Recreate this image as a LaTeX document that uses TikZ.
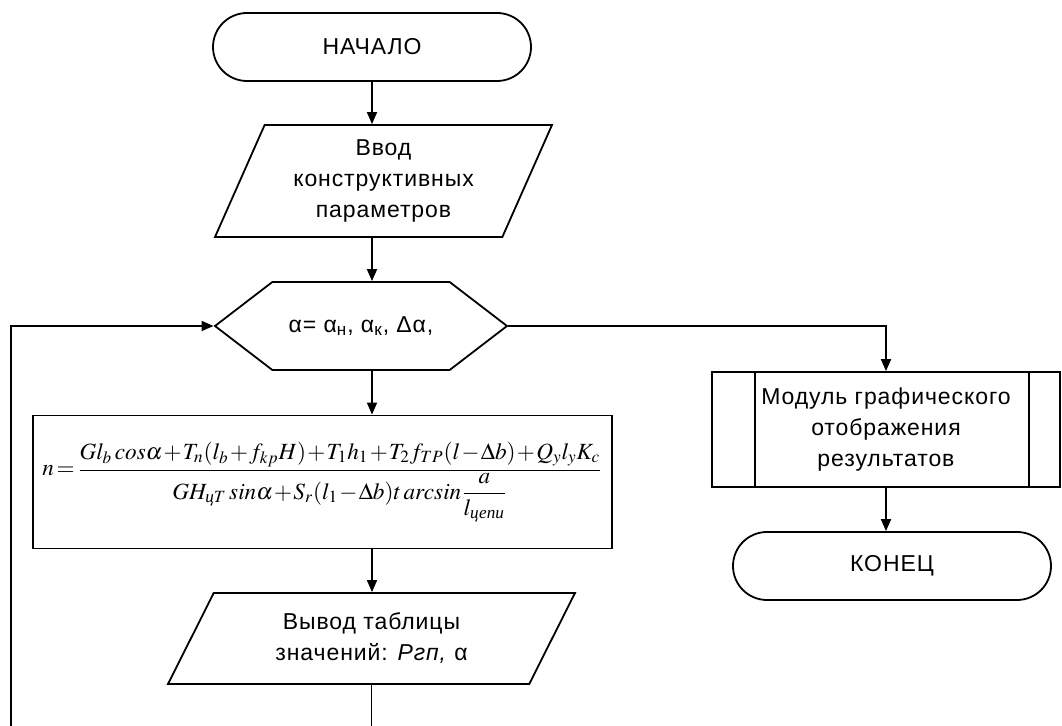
\documentclass[tikz,border=0pt]{standalone}
\usepackage{amsmath}
\usepackage{mathptmx}
\usepackage{fontspec}
\setmainfont[LetterSpace=4]{Liberation Sans}
\newfontfamily\serifcyr{Liberation Serif}
\newcommand\cyrsub[1]{\text{\serifcyr\itshape #1}}
\usetikzlibrary{positioning,shapes.misc,shapes.geometric,shapes.symbols,arrows.meta}

\begin{document}
\begin{tikzpicture}[x=0.5pt, y=-0.5pt, line width=0.9pt,
	every node/.style={font=\fontsize{11.5}{15.5}\selectfont, inner sep=0pt, align=center},
	term/.style={draw, rounded rectangle, minimum width=159pt, minimum height=34pt},
	io/.style={draw, trapezium, trapezium stretches body},
	cycle/.style={draw, signal, signal to=west and east, signal pointer angle=75, minimum width=146pt, minimum height=44pt},
	block/.style={draw, rectangle},
	arr/.style={-{Triangle[length=6pt, width=5pt]}}]
	\useasboundingbox (0,0) rectangle (1062,726);
	\node[term] (start) at (372,47) {НАЧАЛО};
	\node[io, trapezium left angle=59, trapezium right angle=121, minimum width=168.5pt, minimum height=56pt] (inp) at (383.5,181) {Ввод\\конструктивных\\параметров};
	\node[cycle] (cyc) at (361,326) {α= α\textsubscript{н}, α\textsubscript{к}, Δα,};
	\node[block, minimum width=289.5pt, minimum height=66.5pt] (calc) at (322.5,482) {\fontsize{11.6}{13}\selectfont
		\medmuskip=1mu \thickmuskip=2mu
		$n=\dfrac{Gl_b\,cos\alpha+T_n(l_b+f_{kp}H)+T_1h_1+T_2f_{TP}(l-\Delta b)+Q_yl_yK_c}{GH_{\cyrsub{ц}T}\,sin\alpha+S_r(l_1-\Delta b)t\,arcsin\dfrac{a}{l_{\cyrsub{цепи}}}}$};
	\node[io, trapezium left angle=48, trapezium right angle=132, minimum width=203.5pt, minimum height=45.5pt] (out) at (371.5,638.5) {Вывод таблицы\\значений: \textit{Pгп,} α};
	\node[block, minimum width=174pt, minimum height=57.5pt] (mod) at (886,429.5) {Модуль графического\\отображения\\результатов};
	\draw ([xshift=22pt]mod.north west) -- ([xshift=22pt]mod.south west);
	\draw ([xshift=-16pt]mod.north east) -- ([xshift=-16pt]mod.south east);
	\node[term] (fin) at (892,566) {КОНЕЦ};
	\coordinate (back) at (11,745);
	% main column
	\draw[arr] (start.south) -- (start |- inp.north);
	\draw[arr] (start |- inp.south) -- (start |- cyc.north);
	\draw[arr] (start |- cyc.south) -- (start |- calc.north);
	\draw[arr] (start |- calc.south) -- (start |- out.north);
	% loop back and exit
	\draw[arr] (out.south) |- (back) |- (cyc.west);
	\draw[arr] (cyc.east) -| (mod.north);
	\draw[arr] (mod.south) -- (mod |- fin.north);
\end{tikzpicture}
\end{document}
